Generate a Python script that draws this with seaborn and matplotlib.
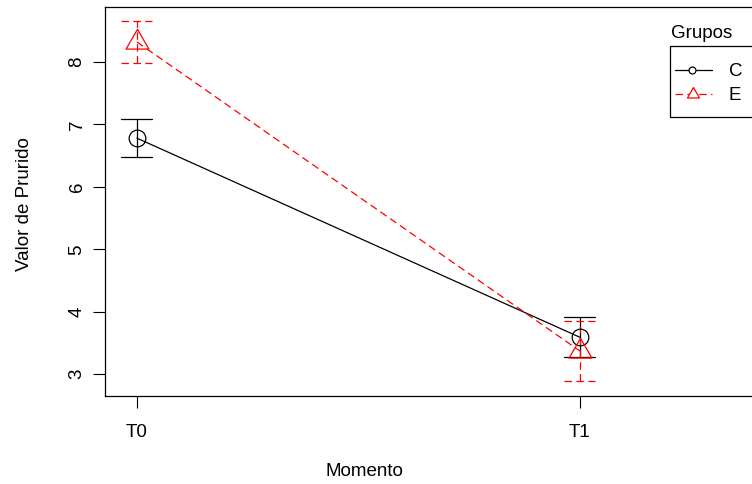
import matplotlib
matplotlib.use("Agg")
import matplotlib.pyplot as plt
import seaborn as sns
import pandas as pd
from matplotlib.path import Path
from matplotlib.patches import Rectangle

momentos = ["T0", "T1"]
grupos = ["C", "E"]
media_C = [6.78, 3.59]
media_E = [8.32, 3.37]
ep_C = [0.30, 0.32]
ep_E = [0.34, 0.48]

sns.set_style("white")
plt.rcParams["font.family"] = ["Liberation Sans", "DejaVu Sans"]
plt.rcParams["text.color"] = "black"
plt.rcParams["axes.labelcolor"] = "black"

df = pd.DataFrame({
    "pos": [0, 1, 0, 1],
    "Momento": momentos * 2,
    "grupo": ["C", "C", "E", "E"],
    "media": media_C + media_E,
    "ep": ep_C + ep_E,
})

# triangle with centroid at origin (as R pch=2)
tri = Path([(0, 1.155), (-1, -0.577), (1, -0.577), (0, 1.155)],
           [Path.MOVETO, Path.LINETO, Path.LINETO, Path.CLOSEPOLY])

FS = 13.5
W, H = 752, 484
AX_L, AX_R, AX_T, AX_B = 105, 757, 7, 396
fig = plt.figure(figsize=(7.52, 4.84), dpi=100)
ax = fig.add_axes([AX_L / W, 1 - AX_B / H, (AX_R - AX_L) / W, (AX_B - AX_T) / H])

colors = {"C": "black", "E": "red"}
DASH = (0, (6, 3.5))
sns.lineplot(data=df, x="pos", y="media", hue="grupo", style="grupo",
             palette=colors, dashes={"C": "", "E": (6, 3.5)},
             markers=False, lw=0.9, ax=ax, legend=False, sort=False)

# error bars with caps
for g, ls in [("C", "-"), ("E", DASH)]:
    sub = df[df.grupo == g]
    eb = ax.errorbar(sub["pos"], sub["media"], yerr=sub["ep"], fmt="none",
                     ecolor=colors[g], elinewidth=0.9, capsize=0)
    for c in eb[2]:
        c.set_linestyle(ls)
    hw = 0.035
    for x, m, e in zip(sub["pos"], sub["media"], sub["ep"]):
        for yy in (m - e, m + e):
            ax.plot([x - hw, x + hw], [yy, yy], color=colors[g], lw=0.9,
                    linestyle=ls)

subC = df[df.grupo == "C"]
subE = df[df.grupo == "E"]
ax.plot(subC["pos"], subC["media"], "o", ms=12, mfc="none", mec="black", mew=0.9)
ax.plot(subE["pos"], subE["media"], marker=tri, ls="none", ms=19, mfc="none",
        mec="red", mew=0.9)

ax.set_xlim(-0.072, (AX_R - 137) / 443)
ax.set_ylim(2.65, 8.88)
ax.set_xticks([0, 1])
ax.set_xticklabels(momentos)
ax.set_yticks([3, 4, 5, 6, 7, 8])
ax.set_yticklabels(["3", "4", "5", "6", "7", "8"], rotation=90, va="center")
ax.tick_params(axis="both", direction="out", length=8.5, width=0.8, colors="black",
               labelsize=FS, left=True, bottom=True)
ax.tick_params(axis="x", pad=11.5)
ax.tick_params(axis="y", pad=5.5)
for s in ax.spines.values():
    s.set_visible(True)
    s.set_color("black")
    s.set_linewidth(0.9)

ax.set_xlabel("Momento", fontsize=FS, color="black")
ax.set_ylabel("Valor de Prurido", fontsize=FS, color="black")
aw, ah = AX_R - AX_L, AX_B - AX_T
ax.xaxis.set_label_coords((364 - AX_L) / aw, -(471 - AX_B) / ah)
ax.xaxis.label.set_verticalalignment("center")
ax.yaxis.set_label_coords(-(AX_L - 25) / aw, (AX_B - 204) / ah)
ax.yaxis.label.set_verticalalignment("center")

# legend drawn in pixel coordinates (partly outside the image as in reference)
ov = fig.add_axes([0, 0, 1, 1], facecolor="none")
ov.set_xlim(0, W)
ov.set_ylim(H, 0)
ov.axis("off")
ov.add_patch(Rectangle((670, 46), 100, 71, fill=False, ec="black", lw=0.9,
                       clip_on=False))
ov.text(671, 33, "Grupos", fontsize=FS, ha="left", va="center", color="black")
ov.plot([675, 712], [70, 70], color="black", lw=0.9)
ov.plot([692], [70], "o", ms=5, mfc="white", mec="black", mew=0.9)
ov.text(729, 71, grupos[0], fontsize=FS, ha="left", va="center", color="black")
ov.plot([675, 712], [94, 94], color="red", lw=0.9, ls=DASH)
ov.plot([693], [94], marker=tri, ms=10, mfc="white", mec="red", mew=0.9, ls="none")
ov.text(729, 95, grupos[1], fontsize=FS, ha="left", va="center", color="black")

fig.savefig("out.png", dpi=100)
